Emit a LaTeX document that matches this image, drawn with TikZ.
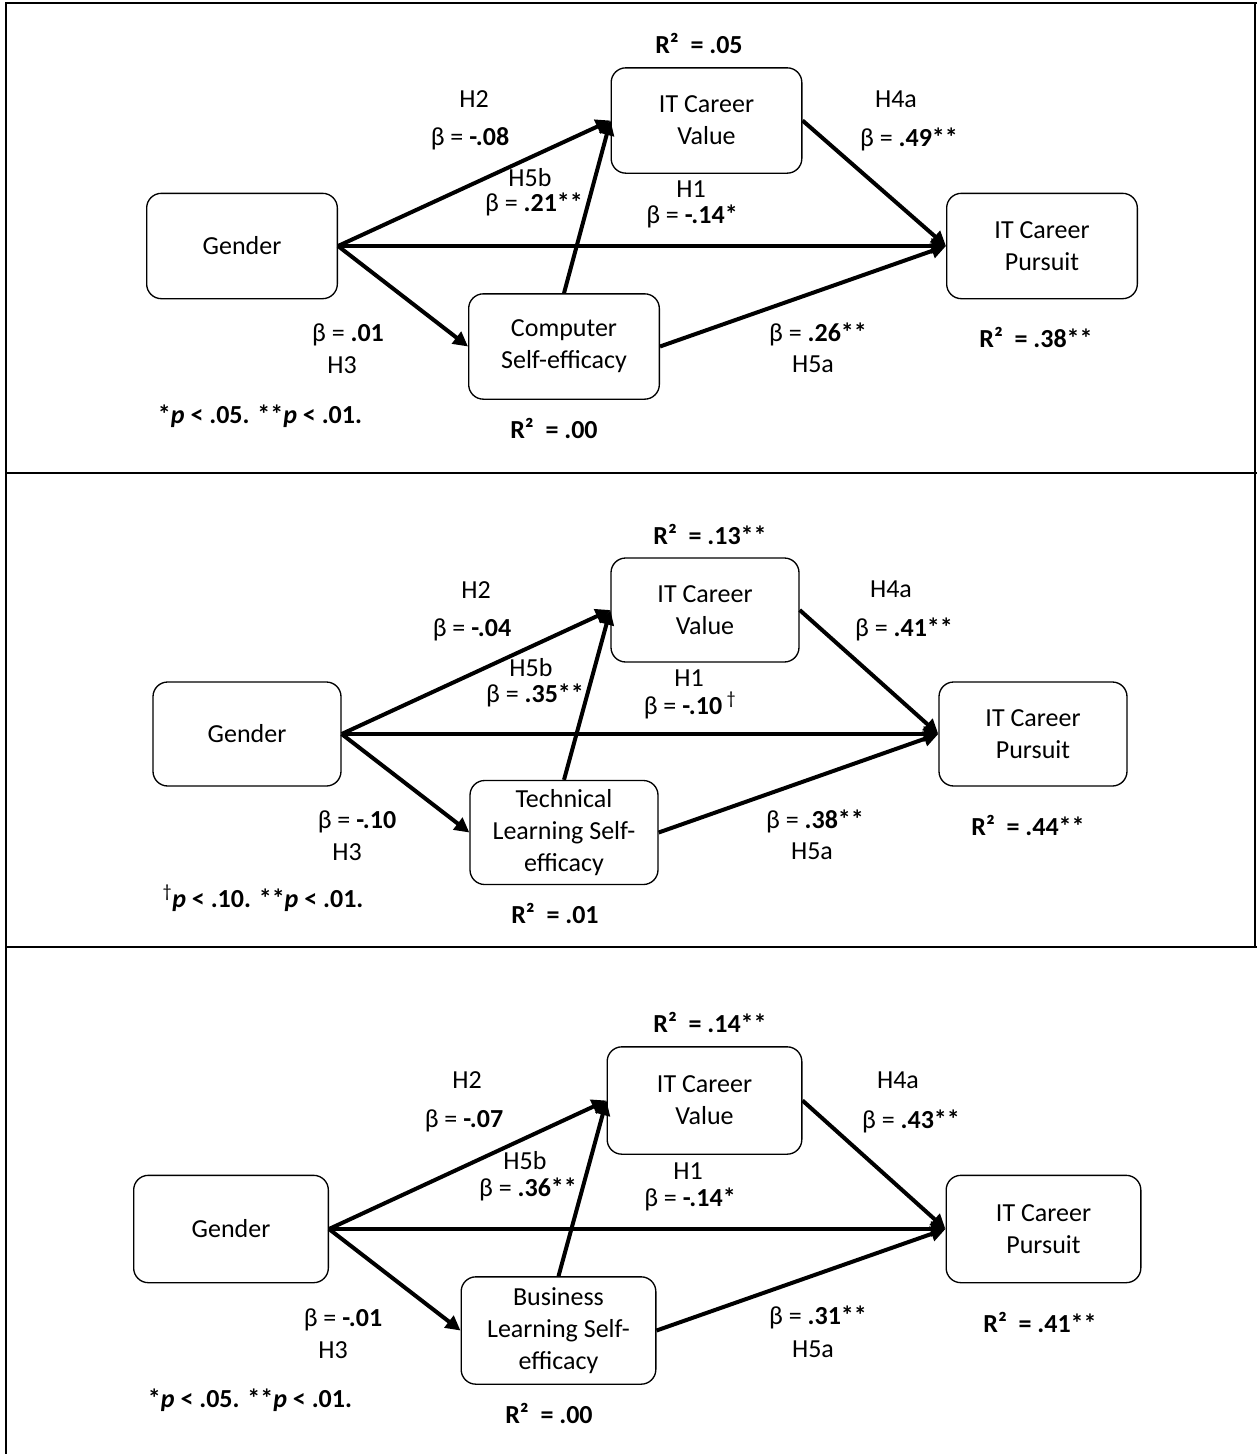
\documentclass[tikz,border=0pt]{standalone}
\usepackage{fontspec}
\setmainfont{Carlito}
\usetikzlibrary{arrows.meta}
\begin{document}
\begin{tikzpicture}[x=0.75pt,y=-0.75pt,
  every node/.style={font=\fontsize{19.5}{24}\selectfont},
  pbox/.style 2 args={draw, line width=1pt, rounded corners=11pt, minimum width=#1, minimum height=#2, align=center, inner sep=0pt},
  lbl/.style={inner sep=0pt, align=center},
  conn/.style={line width=3pt, -{Triangle[length=11pt,width=11pt]}},
  frameline/.style={line width=1.7pt}
]
\useasboundingbox (0,0) rectangle (1257,1454);
% frame
\draw[frameline] (6,1454) -- (6,3) -- (1257,3);
\draw[frameline] (6,473) -- (1257,473);
\draw[frameline] (6,947) -- (1257,947);
\draw[frameline] (1255,3) -- (1255,947);

% ---------- panel 1 ----------
\node[pbox={143pt}{79pt}] (g1) at (242,246) {Gender};
\node[pbox={143pt}{79pt}] (v1) at (706.5,120.5) {IT Career\\Value};
\node[pbox={143pt}{79pt}] (s1) at (564,346.5) {Computer\\Self-efficacy};
\node[pbox={143pt}{79pt}] (p1) at (1042,246) {IT Career\\Pursuit};
\draw[conn] (g1.east) -- (v1.west);
\draw[conn] (g1.east) -- (p1.west);
\draw[conn] (g1.east) -- (s1.west);
\draw[conn] (s1.north) -- (v1.west);
\draw[conn] (v1.east) -- (p1.west);
\draw[conn] (s1.east) -- (p1.west);
\node[lbl] (r1v) at (699,43) {\textbf{R²\ \ = .05}};
\node[lbl] (h2a) at (474,99) {H2};
\node[lbl] (b2a) at (470,139) {β = \textbf{-.08}};
\node[lbl] (h5ba) at (530,178) {H5b};
\node[lbl] (b5ba) at (534,204) {β = \textbf{.21**}};
\node[lbl] (h1a) at (691,189) {H1};
\node[lbl] (b1a) at (692,216) {β = \textbf{-.14*}};
\node[lbl] (b5aa) at (818,334) {β = \textbf{.26**}};
\node[lbl] (h5aa) at (813,364) {H5a};
\node[lbl] (h4aa) at (896,99) {H4a};
\node[lbl] (b4aa) at (909,139) {β = \textbf{.49**}};
\node[lbl] (r1p) at (1036,337) {\textbf{R²\ \ = .38**}};
\node[lbl] (b3a) at (348,335) {β = \textbf{.01}};
\node[lbl] (h3a) at (342,365) {H3};
\node[lbl] (fa) at (260,416) {\textbf{*\textit{p} < .05. **\textit{p} < .01.}};
\node[lbl] (r1s) at (554,428) {\textbf{R²\ \ = .00}};

% ---------- panel 2 ----------
\node[pbox={141pt}{78pt}] (g2) at (247,734) {Gender};
\node[pbox={141pt}{78pt}] (v2) at (705,610) {IT Career\\Value};
\node[pbox={141pt}{78pt}] (s2) at (564,832.5) {Technical\\Learning Self-\\efficacy};
\node[pbox={141pt}{78pt}] (p2) at (1033,734) {IT Career\\Pursuit};
\draw[conn] (g2.east) -- (v2.west);
\draw[conn] (g2.east) -- (p2.west);
\draw[conn] (g2.east) -- (s2.west);
\draw[conn] (s2.north) -- (v2.west);
\draw[conn] (v2.east) -- (p2.west);
\draw[conn] (s2.east) -- (p2.west);
\node[lbl] (r2v) at (710,534) {\textbf{R²\ \ = .13**}};
\node[lbl] (h2b) at (476,590) {H2};
\node[lbl] (b2b) at (472,630) {β = \textbf{-.04}};
\node[lbl] (h5bb) at (531,668) {H5b};
\node[lbl] (b5bb) at (535,695) {β = \textbf{.35**}};
\node[lbl] (h1b) at (689,678) {H1};
\node[lbl] (b1b) at (690,705) {β = \textbf{-.10}\,\textsuperscript{†}};
\node[lbl] (b5ab) at (815,821) {β = \textbf{.38**}};
\node[lbl] (h5ab) at (812,851) {H5a};
\node[lbl] (h4ab) at (891,589) {H4a};
\node[lbl] (b4ab) at (904,629) {β = \textbf{.41**}};
\node[lbl] (r2p) at (1028,825) {\textbf{R²\ \ = .44**}};
\node[lbl] (b3b) at (357,822) {β = \textbf{-.10}};
\node[lbl] (h3b) at (347,852) {H3};
\node[lbl] (fb) at (263,898) {\textsuperscript{†}\textbf{\textit{p} < .10. **\textit{p} < .01.}};
\node[lbl] (r2s) at (555,913) {\textbf{R²\ \ = .01}};

% ---------- panel 3 ----------
\node[pbox={146pt}{80.5pt}] (g3) at (231,1229) {Gender};
\node[pbox={146pt}{80.5pt}] (v3) at (704.5,1100.5) {IT Career\\Value};
\node[pbox={146pt}{80.5pt}] (s3) at (558.5,1330.5) {Business\\Learning Self-\\efficacy};
\node[pbox={146pt}{80.5pt}] (p3) at (1043.5,1229) {IT Career\\Pursuit};
\draw[conn] (g3.east) -- (v3.west);
\draw[conn] (g3.east) -- (p3.west);
\draw[conn] (g3.east) -- (s3.west);
\draw[conn] (s3.north) -- (v3.west);
\draw[conn] (v3.east) -- (p3.west);
\draw[conn] (s3.east) -- (p3.west);
\node[lbl] (r3v) at (710,1022) {\textbf{R²\ \ = .14**}};
\node[lbl] (h2c) at (467,1080) {H2};
\node[lbl] (b2c) at (464,1121) {β = \textbf{-.07}};
\node[lbl] (h5bc) at (525,1161) {H5b};
\node[lbl] (b5bc) at (528,1189) {β = \textbf{.36**}};
\node[lbl] (h1c) at (688,1171) {H1};
\node[lbl] (b1c) at (690,1199) {β = \textbf{-.14*}};
\node[lbl] (b5ac) at (818,1317) {β = \textbf{.31**}};
\node[lbl] (h5ac) at (813,1349) {H5a};
\node[lbl] (h4ac) at (898,1080) {H4a};
\node[lbl] (b4ac) at (911,1121) {β = \textbf{.43**}};
\node[lbl] (r3p) at (1040,1322) {\textbf{R²\ \ = .41**}};
\node[lbl] (b3c) at (343,1320) {β = \textbf{-.01}};
\node[lbl] (h3c) at (333,1350) {H3};
\node[lbl] (fc) at (250,1400) {\textbf{*\textit{p} < .05. **\textit{p} < .01.}};
\node[lbl] (r3s) at (549,1413) {\textbf{R²\ \ = .00}};
\end{tikzpicture}
\end{document}
